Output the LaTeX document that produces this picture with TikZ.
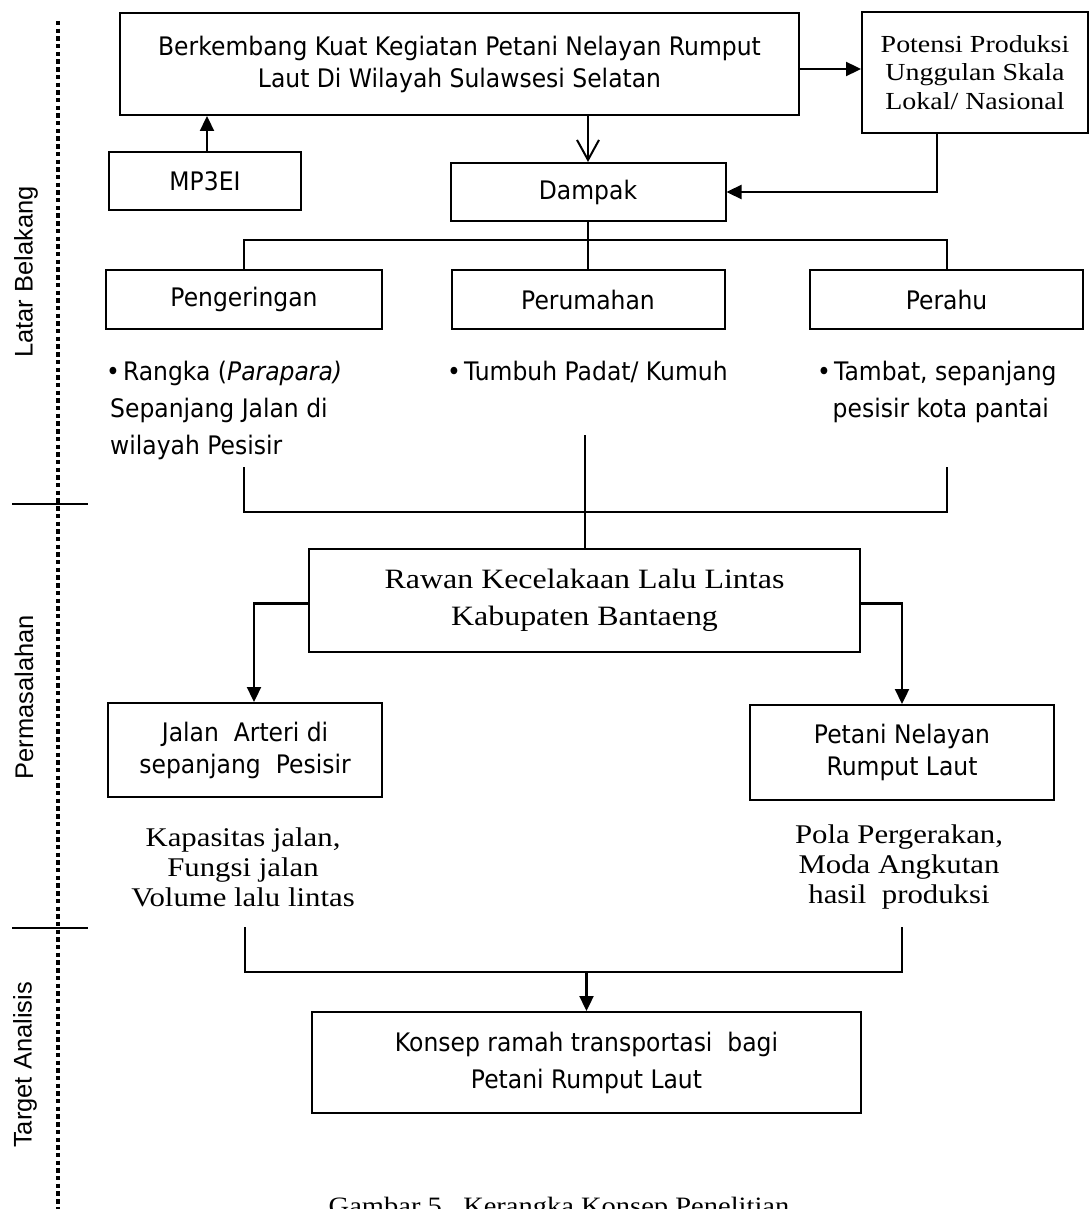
\documentclass[tikz,border=0pt]{standalone}
\usepackage{fontspec}
\setmainfont{DejaVu Sans}[FakeStretch=0.92]
\newfontfamily\seriffam{Liberation Serif}[FakeStretch=1.14]
\newfontfamily\arialfam{Liberation Sans}
\usetikzlibrary{arrows.meta}
\newcommand\sansA{\fontsize{25.5}{32}\selectfont}
\newcommand\sansB{\fontsize{25.5}{37}\selectfont}
\newcommand\serA{\seriffam\fontsize{24.5}{28.5}\selectfont}
\newcommand\serB{\seriffam\fontsize{28}{37}\selectfont}
\newcommand\serC{\seriffam\fontsize{27}{30}\selectfont}
\newcommand\serD{\seriffam\fontsize{25}{30}\selectfont}
\newcommand\sideF{\arialfam\fontsize{25.5}{30}\selectfont}
\begin{document}
\begin{tikzpicture}[x=1pt,y=-1pt,
  box/.style={draw, line width=2pt, inner sep=0pt, align=center, font=\sansA},
  conn/.style={line width=2pt},
  arr/.style={line width=2.3pt, -{Triangle[length=15pt,width=14pt]}},
  varr/.style={line width=2pt, -{Straight Barb[length=20pt,width=22pt]}},
  side/.style={rotate=90, font=\sideF, inner sep=0pt},
  bul/.style={anchor=north west, align=left, inner sep=0pt, font=\sansB},
  ser/.style={align=center, inner sep=0pt},
  dotline/.style={line width=4.8pt, dash pattern=on 4.4pt off 3.3pt},
  tick/.style={line width=1.5pt}
]
\useasboundingbox (0,0) rectangle (1090,1209);
\clip (0,0) rectangle (1090,1209);

% side structure
\coordinate (dTop) at (58,21);
\coordinate (dBot) at (58,1209);
\draw[dotline] (dTop) -- (dBot);
\coordinate (t1a) at (12,504); \coordinate (t1b) at (88,504);
\coordinate (t2a) at (12,928); \coordinate (t2b) at (88,928);
\draw[tick] (t1a) -- (t1b);
\draw[tick] (t2a) -- (t2b);
\node[side] (lb) at (26,272) {Latar Belakang};
\node[side] (pm) at (24,697) {Permasalahan};
\node[side] (ta) at (25,1065) {Target Analisis};

% boxes
\node[box, minimum width=679pt, minimum height=102pt] (top) at (459.5,64)
  {Berkembang Kuat Kegiatan Petani Nelayan Rumput\\Laut Di Wilayah Sulawsesi Selatan};
\node[box, minimum width=226pt, minimum height=121pt, font=\serA] (pot) at (975,72.5)
  {Potensi Produksi\\Unggulan Skala\\Lokal/ Nasional};
\node[box, minimum width=192pt, minimum height=58pt] (mp) at (205,181) {MP3EI};
\node[box, minimum width=275pt, minimum height=58pt] (damp) at (588,192) {Dampak};
\node[box, minimum width=276pt, minimum height=59pt] (peng) at (244,299.5) {Pengeringan};
\node[box, minimum width=273pt, minimum height=59pt] (peru) at (588,299.5) {Perumahan};
\node[box, minimum width=273pt, minimum height=59pt] (perahu) at (946.5,299.5) {Perahu};

\node[bul] (b1) at (106,361) {\textbullet\hspace{3pt}Rangka (\textit{Parapara)}\\\hspace*{4pt}Sepanjang Jalan di\\\hspace*{4pt}wilayah Pesisir};
\node[bul] (b2) at (447,361) {\textbullet\hspace{3pt}Tumbuh Padat/ Kumuh};
\node[bul] (b3) at (817,361) {\textbullet\hspace{3pt}Tambat, sepanjang\\\hspace*{15.5pt}pesisir kota pantai};

\node[box, minimum width=551pt, minimum height=103pt, font=\serB] (rawan) at (584.5,600.5)
  {Rawan Kecelakaan Lalu Lintas\\Kabupaten Bantaeng};
\node[box, minimum width=274pt, minimum height=94pt] (jalan) at (245,750)
  {Jalan\ \ Arteri di\\sepanjang\ \ Pesisir};
\node[box, minimum width=304pt, minimum height=95pt] (petani) at (902,752.5)
  {Petani Nelayan\\Rumput Laut};
\node[ser, font=\serC] (kap) at (243,867) {Kapasitas jalan,\\Fungsi jalan\\Volume lalu lintas};
\node[ser, font=\serC] (pola) at (899,867) {Pola Pergerakan,\\Moda Angkutan\\hasil\ \ produksi};
\node[box, minimum width=549pt, minimum height=101pt, font=\sansB] (konsep) at (586.5,1062.5)
  {Konsep ramah transportasi\ \ bagi\\Petani Rumput Laut};
\node[ser, font=\serD, anchor=north] (cap) at (559,1197) {Gambar 5.\ \ Kerangka Konsep Penelitian};

% connectors
\draw[arr] (top.east |- 0,69) -- (pot.west |- 0,69);
\draw[arr] (mp.north -| 207,0) -- (top.south -| 207,0);
\draw[varr] (top.south -| damp.north) -- (damp.north);
\draw[arr] (pot.south -| 937,0) |- (damp.east);
\draw[conn] (damp.south) -- (peru.north);
\coordinate (hl) at (peng.north |- 0,240);
\coordinate (hr) at (perahu.north |- 0,240);
\draw[conn] (peng.north) -- (hl) -- (hr) -- (perahu.north);

\coordinate (j1) at (peng.south |- 0,467);
\coordinate (j3) at (perahu.south |- 0,467);
\draw[conn] (j1) -- (j1 |- 0,512) -- (j3 |- 0,512) -- (j3);
\draw[conn] (rawan.north |- 0,435) -- (rawan.north);

\draw[arr] ([yshift=-3pt]rawan.west) -| ([xshift=9pt]jalan.north);
\draw[arr] ([yshift=-3pt]rawan.east) -| (petani.north);

\coordinate (k1) at (jalan.south |- 0,927);
\coordinate (k3) at (petani.south |- 0,927);
\draw[conn] (k1) -- (k1 |- 0,972) -- (k3 |- 0,972) -- (k3);
\draw[arr] (konsep.north |- 0,972) -- (konsep.north);
\end{tikzpicture}
\end{document}
